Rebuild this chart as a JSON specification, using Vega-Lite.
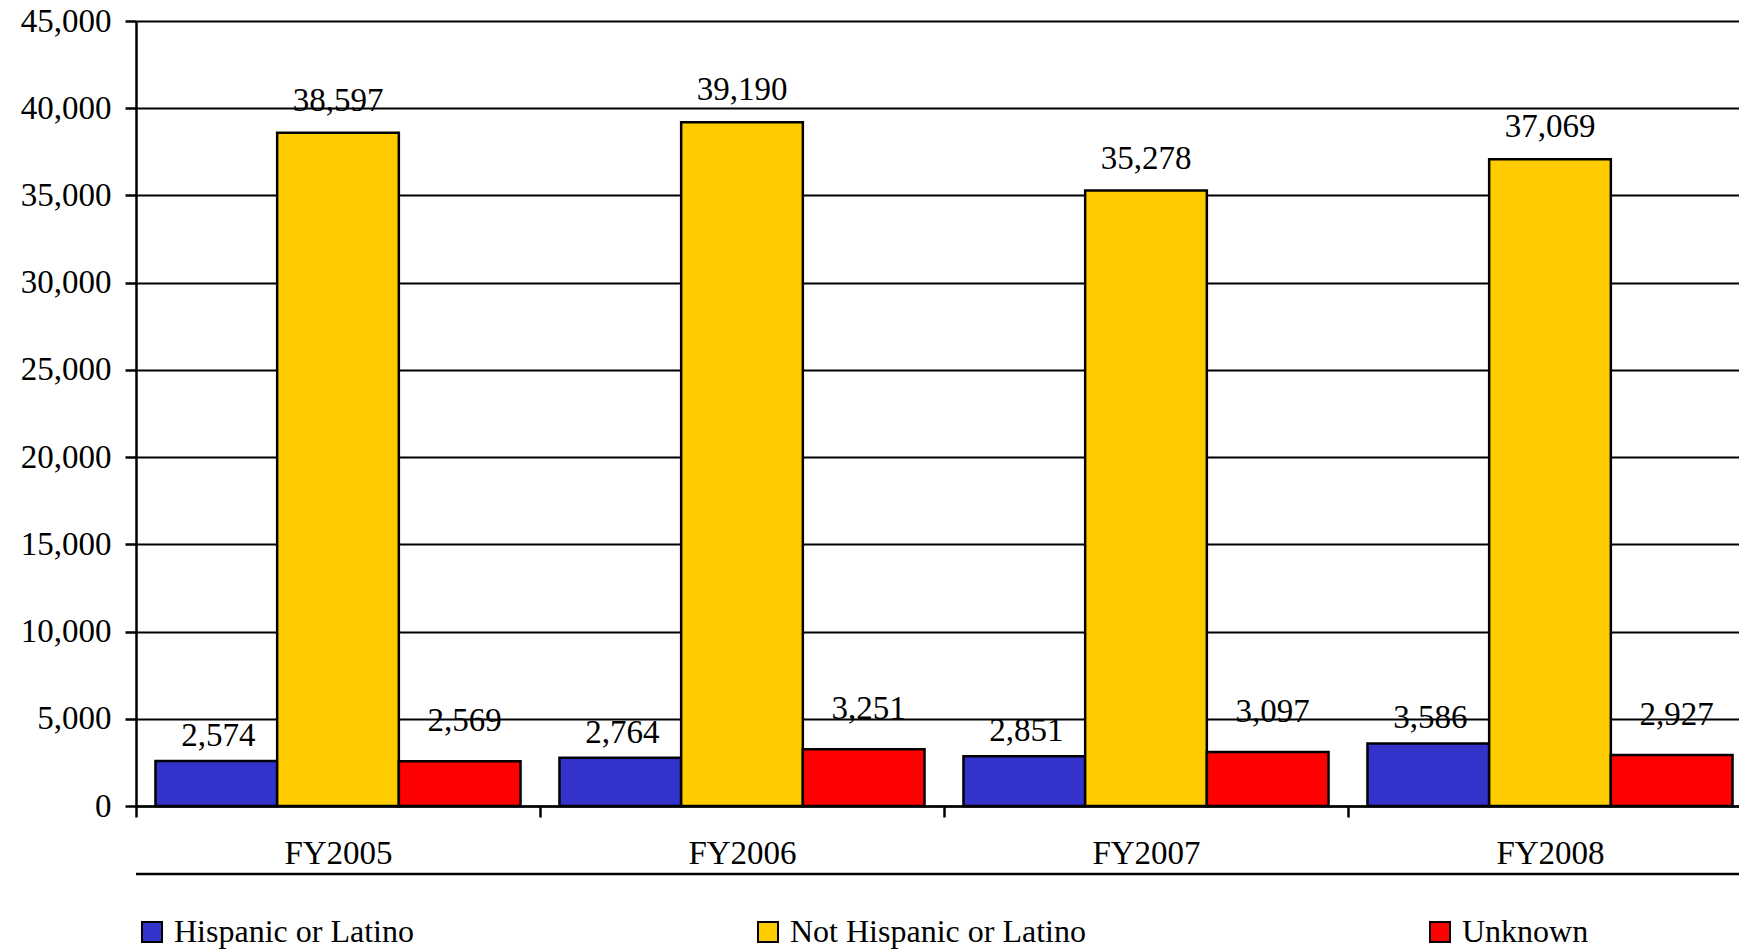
{
  "$schema": "https://vega.github.io/schema/vega-lite/v6.json",
  "width": 1603,
  "height": 785,
  "autosize": {"type": "none"},
  "padding": {"left": 136, "top": 21, "right": 0, "bottom": 144},
  "background": "white",
  "config": {
    "view": {"stroke": null},
    "font": "Liberation Serif",
    "axisY": {
      "title": null, "format": ",d", "labelFontSize": 33, "labelColor": "black", "labelFont": "Liberation Serif",
      "labelPadding": 14, "tickSize": 11, "tickColor": "black", "tickWidth": 2.5,
      "domainColor": "black", "domainWidth": 2.5,
      "grid": true, "gridColor": "black", "gridWidth": 2, "gridOpacity": 1
    }
  },
  "data": {
    "values": [
      {"year": "FY2005", "group": "Hispanic or Latino", "value": 2574},
      {"year": "FY2005", "group": "Not Hispanic or Latino", "value": 38597},
      {"year": "FY2005", "group": "Unknown", "value": 2569},
      {"year": "FY2006", "group": "Hispanic or Latino", "value": 2764},
      {"year": "FY2006", "group": "Not Hispanic or Latino", "value": 39190},
      {"year": "FY2006", "group": "Unknown", "value": 3251},
      {"year": "FY2007", "group": "Hispanic or Latino", "value": 2851},
      {"year": "FY2007", "group": "Not Hispanic or Latino", "value": 35278},
      {"year": "FY2007", "group": "Unknown", "value": 3097},
      {"year": "FY2008", "group": "Hispanic or Latino", "value": 3586},
      {"year": "FY2008", "group": "Not Hispanic or Latino", "value": 37069},
      {"year": "FY2008", "group": "Unknown", "value": 2927}
    ]
  },
  "layer": [
    {
      "mark": {"type": "bar", "stroke": "black", "strokeWidth": 2.5},
      "encoding": {
        "x": {
          "field": "year", "type": "nominal",
          "scale": {"range": [0, 1616], "paddingInner": 0, "paddingOuter": 0},
          "axis": {
            "title": null, "labelAngle": 0, "labelFontSize": 33, "labelColor": "black",
            "labelFont": "Liberation Serif", "labelPadding": 20,
            "tickBand": "extent", "tickSize": 11, "tickColor": "black", "tickWidth": 2.5,
            "domainColor": "black", "domainWidth": 2.5, "grid": false
          }
        },
        "xOffset": {
          "field": "group", "type": "nominal",
          "sort": ["Hispanic or Latino", "Not Hispanic or Latino", "Unknown"],
          "scale": {"paddingOuter": 0.16, "paddingInner": 0}
        },
        "y": {
          "field": "value", "type": "quantitative",
          "scale": {"domain": [0, 45000]},
          "axis": {"values": [0, 5000, 10000, 15000, 20000, 25000, 30000, 35000, 40000, 45000]}
        },
        "color": {
          "field": "group", "type": "nominal",
          "scale": {
            "domain": ["Hispanic or Latino", "Not Hispanic or Latino", "Unknown"],
            "range": ["#3333CC", "#FFCC00", "#FF0000"]
          },
          "legend": {
            "orient": "none", "legendX": 0, "legendY": 895, "direction": "horizontal",
            "title": null, "symbolType": "square", "symbolSize": 400,
            "symbolStrokeColor": "black", "symbolStrokeWidth": 2,
            "labelFontSize": 32, "labelFont": "Liberation Serif", "labelColor": "black",
            "columnPadding": 338, "labelOffset": 6, "labelLimit": 600
          }
        }
      }
    },
    {
      "transform": [{"filter": "datum.group === 'Hispanic or Latino'"}],
      "mark": {"type": "text", "fontSize": 33, "font": "Liberation Serif", "color": "black", "baseline": "alphabetic", "dy": -15, "dx": 2},
      "encoding": {
        "x": {"field": "year", "type": "nominal"},
        "xOffset": {"field": "group", "type": "nominal"},
        "y": {"field": "value", "type": "quantitative"},
        "text": {"field": "value", "type": "quantitative", "format": ","}
      }
    },
    {
      "transform": [{"filter": "datum.group === 'Not Hispanic or Latino'"}],
      "mark": {"type": "text", "fontSize": 33, "font": "Liberation Serif", "color": "black", "baseline": "alphabetic", "dy": -22},
      "encoding": {
        "x": {"field": "year", "type": "nominal"},
        "xOffset": {"field": "group", "type": "nominal"},
        "y": {"field": "value", "type": "quantitative"},
        "text": {"field": "value", "type": "quantitative", "format": ","}
      }
    },
    {
      "transform": [{"filter": "datum.group === 'Unknown'"}],
      "mark": {"type": "text", "fontSize": 33, "font": "Liberation Serif", "color": "black", "baseline": "alphabetic", "dy": -30, "dx": 5},
      "encoding": {
        "x": {"field": "year", "type": "nominal"},
        "xOffset": {"field": "group", "type": "nominal"},
        "y": {"field": "value", "type": "quantitative"},
        "text": {"field": "value", "type": "quantitative", "format": ","}
      }
    },
    {
      "data": {"values": [{}]},
      "mark": {"type": "rule", "stroke": "black", "strokeWidth": 2.5},
      "encoding": {"y": {"datum": -3900, "type": "quantitative"}}
    }
  ]
}
